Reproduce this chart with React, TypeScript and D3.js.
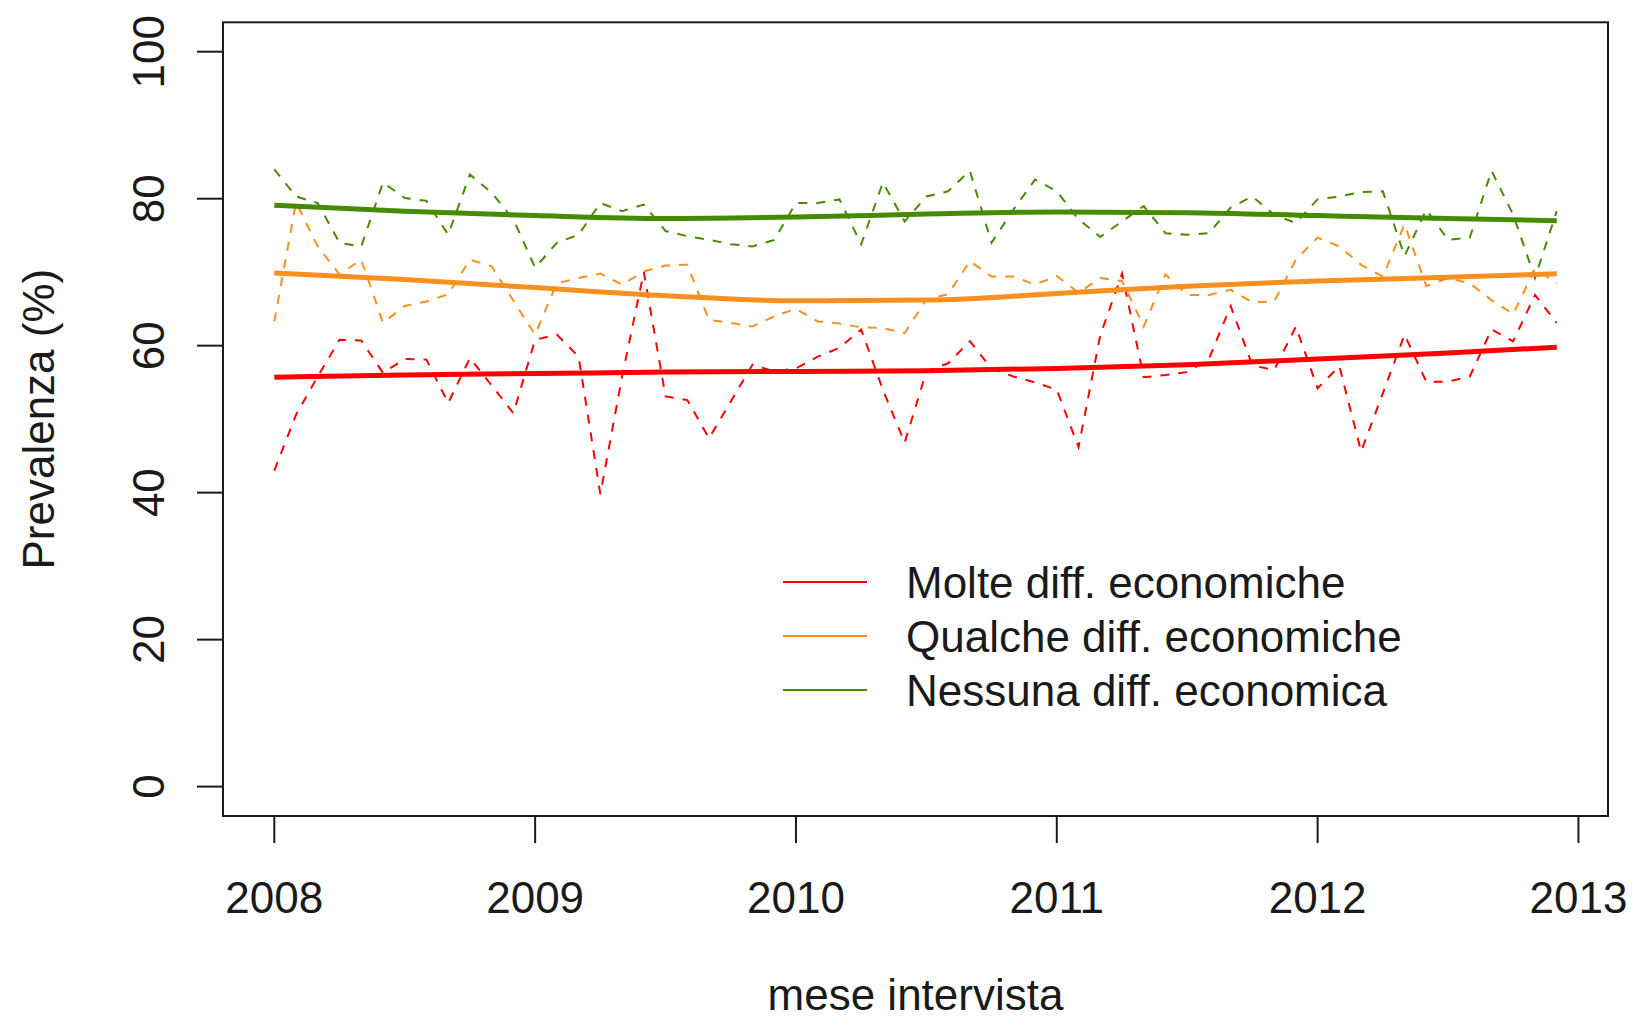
import React from "react";
import * as d3 from "d3";

const W = 1635;
const H = 1022;

// monthly series, Jan 2008 .. Dec 2012
const startYear = 2008;
const molte = [
  43.0, 50.6, 55.8, 60.8, 60.7, 56.3, 58.2, 58.1, 52.2, 58.3, 54.6, 50.8,
  60.8, 61.5, 58.5, 39.8, 55.8, 70.0, 53.1, 52.6, 47.4, 52.4, 57.4, 56.5,
  56.9, 58.5, 59.7, 62.2, 54.0, 46.8, 56.5, 57.6, 60.6, 56.9, 55.8, 55.0,
  54.0, 46.2, 61.4, 69.8, 55.7, 56.0, 56.4, 58.2, 65.4, 57.3, 56.7, 62.6,
  54.2, 57.2, 45.6, 53.5, 61.5, 55.1, 55.1, 55.8, 62.2, 60.6, 66.9, 63.1,
];
const qualche = [
  63.3, 79.5, 73.5, 69.7, 71.7, 63.1, 65.4, 66.0, 67.0, 71.7, 70.8, 66.1,
  61.5, 68.5, 69.2, 69.8, 68.3, 70.1, 70.9, 71.0, 63.5, 63.1, 62.6, 64.0,
  65.0, 63.3, 63.0, 62.5, 62.4, 61.7, 66.3, 67.0, 71.5, 69.4, 69.4, 68.3,
  69.5, 67.2, 69.2, 68.8, 62.6, 69.7, 66.9, 66.9, 67.6, 65.9, 66.0, 71.7,
  74.7, 73.5, 71.0, 69.4, 76.5, 68.1, 69.2, 68.5, 66.2, 64.3, 70.5, 68.5,
];
const nessuna = [
  84.0, 80.3, 79.4, 74.0, 73.5, 82.2, 80.1, 79.7, 75.1, 83.3, 80.8, 77.2,
  70.6, 74.0, 75.1, 79.4, 78.3, 79.2, 75.6, 74.9, 74.4, 73.8, 73.5, 74.4,
  79.4, 79.4, 79.9, 73.8, 82.2, 76.9, 80.3, 81.0, 83.8, 74.0, 78.5, 82.6,
  81.0, 77.2, 74.8, 76.9, 79.0, 75.3, 75.1, 75.3, 78.8, 80.3, 77.8, 76.7,
  79.9, 80.3, 80.9, 81.0, 72.2, 78.5, 74.4, 74.7, 83.8, 77.8, 69.2, 78.3,
];

// smoothed trend, read at knots
const smoothT = [2008, 2008.5, 2009, 2009.5, 2010, 2010.5, 2011, 2011.5, 2012, 2012.5, 2012.917];
const molteSmooth = [55.7, 56.0, 56.2, 56.4, 56.5, 56.6, 56.9, 57.4, 58.2, 59.0, 59.8];
const qualcheSmooth = [69.9, 69.0, 67.9, 66.8, 66.1, 66.2, 67.1, 68.1, 68.8, 69.3, 69.8];
const nessunaSmooth = [79.1, 78.3, 77.7, 77.3, 77.5, 77.9, 78.2, 78.1, 77.7, 77.3, 77.0];

const yTicks = [0, 20, 40, 60, 80, 100];
const xTicks = [2008, 2009, 2010, 2011, 2012, 2013];
const legendLabels = [
  "Molte diff. economiche",
  "Qualche diff. economiche",
  "Nessuna diff. economica",
];
const colors = ["#ff0000", "#f7901e", "#458b00"];

const FONT = "'Liberation Sans', Arial, Helvetica, sans-serif";

export default function App() {
  const left = 223;
  const right = 1608;
  const top = 22.3;
  const bottom = 816;

  const x = d3.scaleLinear().domain([2007.8033, 2013.1133]).range([left, right]);
  const y = d3.scaleLinear().domain([-4, 104]).range([bottom, top]);

  const series = [molte, qualche, nessuna];
  const smooths = [molteSmooth, qualcheSmooth, nessunaSmooth];

  const rawLine = d3
    .line<number>()
    .x((_, i) => x(startYear + i / 12))
    .y((d) => y(d));

  const smoothLine = d3
    .line<number>()
    .x((_, i) => x(smoothT[i]))
    .y((d) => y(d))
    .curve(d3.curveMonotoneX);

  const fs = 44;

  return (
    <svg
      width={W}
      height={H}
      style={{ position: "absolute", left: 0, top: 0, background: "#fff" }}
      fontFamily={FONT}
    >
      <rect x={0} y={0} width={W} height={H} fill="#fff" />

      {/* data */}
      {series.map((s, k) => (
        <path
          key={"raw" + k}
          d={rawLine(s) || ""}
          fill="none"
          stroke={colors[k]}
          strokeWidth={2}
          strokeDasharray="9 9"
        />
      ))}
      {smooths.map((s, k) => (
        <path
          key={"sm" + k}
          d={smoothLine(s) || ""}
          fill="none"
          stroke={colors[k]}
          strokeWidth={5}
        />
      ))}

      {/* box */}
      <rect
        x={left}
        y={top}
        width={right - left}
        height={bottom - top}
        fill="none"
        stroke="#1a1a1a"
        strokeWidth={2}
      />

      {/* y axis */}
      {yTicks.map((t) => (
        <g key={"yt" + t}>
          <line x1={left - 26} x2={left} y1={y(t)} y2={y(t)} stroke="#1a1a1a" strokeWidth={2} />
          <text
            transform={`translate(164,${y(t)}) rotate(-90)`}
            textAnchor="middle"
            fontSize={fs}
            fill="#1a1a1a"
          >
            {t}
          </text>
        </g>
      ))}
      <text
        transform={`translate(54,${(top + bottom) / 2}) rotate(-90)`}
        textAnchor="middle"
        fontSize={fs}
        fill="#1a1a1a"
      >
        Prevalenza (%)
      </text>

      {/* x axis */}
      {xTicks.map((t) => (
        <g key={"xt" + t}>
          <line x1={x(t)} x2={x(t)} y1={bottom} y2={bottom + 27} stroke="#1a1a1a" strokeWidth={2} />
          <text x={x(t)} y={913} textAnchor="middle" fontSize={fs} fill="#1a1a1a">
            {t}
          </text>
        </g>
      ))}
      <text x={(left + right) / 2} y={1010} textAnchor="middle" fontSize={fs} fill="#1a1a1a">
        mese intervista
      </text>

      {/* legend */}
      {legendLabels.map((lab, k) => {
        const ly = 582 + k * 54;
        return (
          <g key={"lg" + k}>
            <line x1={783} x2={867} y1={ly} y2={ly} stroke={colors[k]} strokeWidth={2} />
            <text x={906} y={ly + 16} fontSize={fs} fill="#1a1a1a">
              {lab}
            </text>
          </g>
        );
      })}
    </svg>
  );
}
